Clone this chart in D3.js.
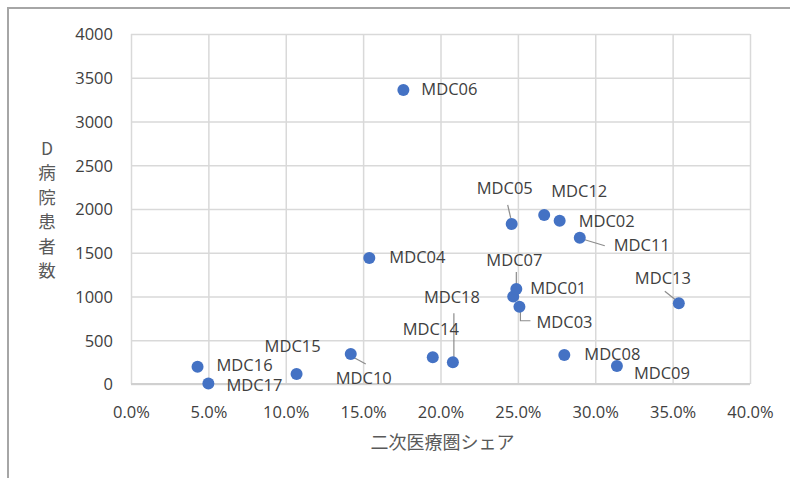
<!DOCTYPE html>
<html>
<head>
<meta charset="utf-8">
<script src="https://cdn.jsdelivr.net/npm/d3@7"></script>
<style>
  html, body { margin: 0; padding: 0; background: #fff; }
  svg { display: block; }
  text { font-family: "Open Sans", "Noto Sans", sans-serif; fill: #404040; }
  .jp { font-family: "Noto Sans CJK JP", sans-serif; }
</style>
</head>
<body>
<svg id="chart" width="790" height="478"></svg>
<script>
// MDC categories, secondary medical area share, and D hospital patient counts
const categories = ["MDC01","MDC02","MDC03","MDC04","MDC05","MDC06","MDC07","MDC08","MDC09",
                    "MDC10","MDC11","MDC12","MDC13","MDC14","MDC15","MDC16","MDC17","MDC18"];
const share    = [0.247, 0.277, 0.251, 0.154, 0.246, 0.176, 0.249, 0.280, 0.314,
                  0.142, 0.290, 0.267, 0.354, 0.195, 0.107, 0.043, 0.050, 0.208];
const patients = [1000, 1866, 883, 1440, 1829, 3360, 1086, 331, 206,
                  343, 1672, 1931, 922, 305, 114, 198, 5, 248];
const xTicks = [0, 0.05, 0.10, 0.15, 0.20, 0.25, 0.30, 0.35, 0.40];
const yTicks = [0, 500, 1000, 1500, 2000, 2500, 3000, 3500, 4000];
const xTitle = "二次医療圏シェア";
const yTitle = ["D", "病", "院", "患", "者", "数"];

// Label placement: text offset from the dot, optional leader line (relative to dot)
const labelLayout = {
  MDC01: { dx: 17, dy: -7 },
  MDC02: { dx: 19, dy: 2 },
  MDC03: { dx: 17, dy: 17, leader: [[1, 5], [1, 14], [11, 14]] },
  MDC04: { dx: 20, dy: 1 },
  MDC05: { dx: -35, dy: -34, leader: [[-4, -19], [-1, -6]] },
  MDC06: { dx: 18, dy: 1 },
  MDC07: { dx: -30, dy: -27, leader: [[0, -17], [0, -5]] },
  MDC08: { dx: 20, dy: 1 },
  MDC09: { dx: 17, dy: 9 },
  MDC10: { dx: -15, dy: 26, leader: [[4, 4], [15, 10]] },
  MDC11: { dx: 34, dy: 9, leader: [[5, 2], [25, 8]] },
  MDC12: { dx: 7, dy: -22 },
  MDC13: { dx: -44, dy: -24, leader: [[-14, -12], [-4, -4]] },
  MDC14: { dx: -30, dy: -27 },
  MDC15: { dx: -32, dy: -26 },
  MDC16: { dx: 19, dy: 0 },
  MDC17: { dx: 18, dy: 3 },
  MDC18: { dx: -29, dy: -64, leader: [[1, -49], [1, -5]] }
};

const svg = d3.select("#chart");
const W = 790, H = 478;

// outer frame (left and top edges visible)
svg.append("path")
  .attr("d", `M8,${H} L8,8 L${W},8`)
  .attr("fill", "none").attr("stroke", "#a6a6a6").attr("stroke-width", 2);

const x = d3.scaleLinear().domain([0, 0.4]).range([131, 750]);
const y = d3.scaleLinear().domain([0, 4000]).range([384, 34]);

// gridlines and tick labels
const yAxis = d3.axisLeft(y).tickValues(yTicks).tickSize(-(x.range()[1] - x.range()[0])).tickPadding(18).tickFormat(d3.format("d"));
const xAxis = d3.axisBottom(x).tickValues(xTicks).tickSize(-(y.range()[0] - y.range()[1])).tickPadding(20).tickFormat(d3.format(".1%"));

const gy = svg.append("g").attr("transform", `translate(${x(0)},0)`).call(yAxis);
const gx = svg.append("g").attr("transform", `translate(0,${y(0)})`).call(xAxis);
[gx, gy].forEach(g => {
  g.select(".domain").remove();
  g.selectAll(".tick line").attr("stroke", "#d9d9d9").attr("stroke-width", 1.5);
  g.selectAll(".tick text").attr("fill", "#595959").style("font-size", "16.5px")
    .style("font-family", "\"Open Sans\", sans-serif");
});
gy.selectAll(".tick text").attr("dy", "0.36em");
gx.selectAll(".tick text").attr("dy", "0.85em");
// bottom axis line
svg.append("line")
  .attr("x1", x(0)).attr("x2", x(0.4)).attr("y1", y(0)).attr("y2", y(0))
  .attr("stroke", "#d0d0d0").attr("stroke-width", 1.8);

// axis titles
svg.append("text").attr("class", "jp")
  .attr("x", x(0.2) + 2).attr("y", 444)
  .attr("text-anchor", "middle").attr("dominant-baseline", "middle")
  .style("font-size", "18px").style("fill", "#595959")
  .text(xTitle);

svg.append("g").selectAll("text").data(yTitle).join("text")
  .attr("class", "jp")
  .attr("x", 47).attr("y", (d, i) => 150 + i * 24.5)
  .attr("text-anchor", "middle").attr("dominant-baseline", "middle")
  .style("font-size", "17.5px").style("fill", "#595959")
  .text(d => d);

const pts = categories.map((c, i) => ({ name: c, sx: share[i], py: patients[i] }));

// leader lines
svg.append("g").selectAll("polyline")
  .data(pts.filter(d => labelLayout[d.name].leader))
  .join("polyline")
  .attr("points", d => labelLayout[d.name].leader
    .map(p => [x(d.sx) + p[0], y(d.py) + p[1]].join(",")).join(" "))
  .attr("fill", "none").attr("stroke", "#8c8c8c").attr("stroke-width", 1.2);

// points
svg.append("g").selectAll("circle").data(pts).join("circle")
  .attr("cx", d => x(d.sx)).attr("cy", d => y(d.py)).attr("r", 6)
  .attr("fill", "#4472c4");

// data labels
svg.append("g").selectAll("text").data(pts).join("text")
  .attr("x", d => x(d.sx) + labelLayout[d.name].dx)
  .attr("y", d => y(d.py) + labelLayout[d.name].dy)
  .attr("dominant-baseline", "middle")
  .style("font-size", "16.5px").style("fill", "#404040")
  .text(d => d.name);
</script>
</body>
</html>
